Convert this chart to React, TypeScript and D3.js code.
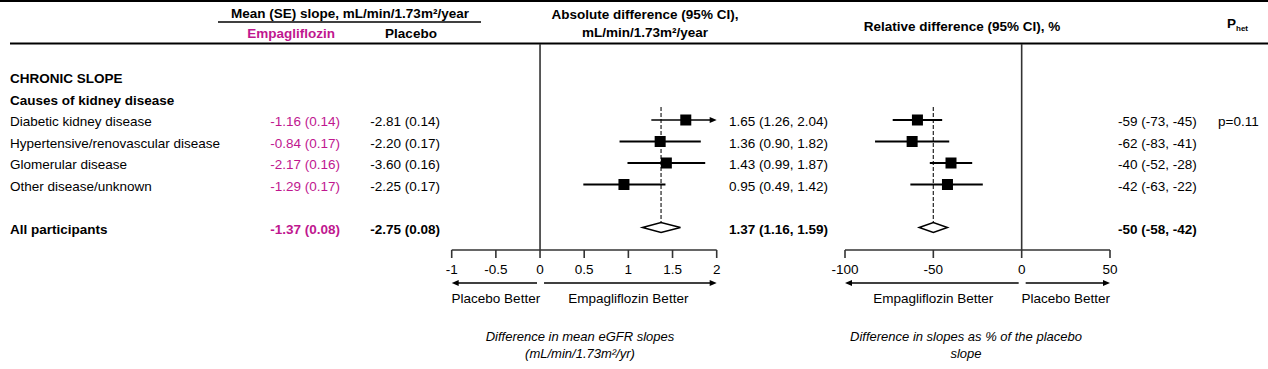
import * as d3 from 'd3';

// chronic eGFR slope by cause of kidney disease
const groups = [
  'Diabetic kidney disease',
  'Hypertensive/renovascular disease',
  'Glomerular disease',
  'Other disease/unknown',
];
const empaSlope = ['-1.16 (0.14)', '-0.84 (0.17)', '-2.17 (0.16)', '-1.29 (0.17)'];
const placeboSlope = ['-2.81 (0.14)', '-2.20 (0.17)', '-3.60 (0.16)', '-2.25 (0.17)'];

const absEst = [1.65, 1.36, 1.43, 0.95];
const absLo = [1.26, 0.9, 0.99, 0.49];
const absHi = [2.04, 1.82, 1.87, 1.42];

const relEst = [-59, -62, -40, -42];
const relLo = [-73, -83, -52, -63];
const relHi = [-45, -41, -28, -22];

const overall = {
  label: 'All participants',
  empa: '-1.37 (0.08)',
  placebo: '-2.75 (0.08)',
  abs: [1.37, 1.16, 1.59],
  rel: [-50, -58, -42],
};
const pHet = 'p=0.11';

const absTicks = [-1, -0.5, 0, 0.5, 1, 1.5, 2];
const relTicks = [-100, -50, 0, 50];

const W = 1268;
const H = 369;
const FONT = "'Liberation Sans', Arial, sans-serif";
const FS = 13.5;
const MAGENTA = '#c0178f';
const LINE = '#333';

const xAbs = d3.scaleLinear().domain([-1, 2]).range([451.7, 716.7]);
const xRel = d3.scaleLinear().domain([-100, 50]).range([845, 1110]);
// row index -> centre y (overall row sits at index 5)
const yRow = d3.scaleLinear().domain([0, 1]).range([120, 141.5]);

const AXIS_Y = 250;
const ARROW_Y = 283;
const SQ = 11;

const fmtCI = (a: number[], dp: number) =>
  `${a[0].toFixed(dp)} (${a[1].toFixed(dp)}, ${a[2].toFixed(dp)})`;

const Arrow = ({ x1, x2, y }: { x1: number; x2: number; y: number }) => {
  const dir = Math.sign(x2 - x1);
  return (
    <g>
      <line x1={x1} x2={x2 - dir * 5} y1={y} y2={y} stroke="#000" strokeWidth={1.6} />
      <path d={`M${x2},${y} L${x2 - dir * 7},${y - 3} L${x2 - dir * 7},${y + 3} Z`} fill="#000" />
    </g>
  );
};

const Panel = ({
  x,
  ticks,
  est,
  lo,
  hi,
  pooled,
  leftLabel,
  rightLabel,
}: {
  x: d3.ScaleLinear<number, number>;
  ticks: number[];
  est: number[];
  lo: number[];
  hi: number[];
  pooled: number[];
  leftLabel: string;
  rightLabel: string;
}) => {
  const [dMin, dMax] = x.domain();
  const x0 = x(0);
  const yPool = yRow(5);
  const diamond = `M${x(pooled[1])},${yPool} L${x(pooled[0])},${yPool - 5} L${x(pooled[2])},${yPool} L${x(pooled[0])},${yPool + 5} Z`;
  return (
    <g>
      <line x1={x0} x2={x0} y1={44} y2={AXIS_Y} stroke={LINE} strokeWidth={1.6} />
      <line
        x1={x(pooled[0])}
        x2={x(pooled[0])}
        y1={107}
        y2={yPool - 5}
        stroke={LINE}
        strokeWidth={1.3}
        strokeDasharray="4,2"
      />
      {est.map((e, i) => {
        const y = yRow(i);
        const clipped = hi[i] > dMax;
        return (
          <g key={i}>
            {clipped ? (
              <Arrow x1={x(Math.max(lo[i], dMin))} x2={x(dMax)} y={y} />
            ) : (
              <line x1={x(lo[i])} x2={x(hi[i])} y1={y} y2={y} stroke="#000" strokeWidth={1.8} />
            )}
            <rect x={x(e) - SQ / 2} y={y - SQ / 2} width={SQ} height={SQ} fill="#000" />
          </g>
        );
      })}
      <path d={diamond} fill="#fff" stroke="#000" strokeWidth={1.5} />
      {/* axis */}
      <line x1={x(dMin)} x2={x(dMax)} y1={AXIS_Y} y2={AXIS_Y} stroke={LINE} strokeWidth={1.6} />
      {ticks.map((t) => (
        <g key={t}>
          <line x1={x(t)} x2={x(t)} y1={AXIS_Y} y2={AXIS_Y + 8} stroke={LINE} strokeWidth={1.6} />
          <text x={x(t)} y={AXIS_Y + 24} textAnchor="middle">
            {t}
          </text>
        </g>
      ))}
      <Arrow x1={x0 - 3} x2={x(dMin)} y={ARROW_Y} />
      <Arrow x1={x0 + 4} x2={x(dMax)} y={ARROW_Y} />
      <text x={(x(dMin) + x0) / 2} y={ARROW_Y + 20} textAnchor="middle">
        {leftLabel}
      </text>
      <text x={(x(dMax) + x0) / 2} y={ARROW_Y + 20} textAnchor="middle">
        {rightLabel}
      </text>
    </g>
  );
};

export default function App() {
  return (
    <svg
      width={W}
      height={H}
      style={{ position: 'absolute', left: 0, top: 0, background: '#fff' }}
      fontFamily={FONT}
      fontSize={FS}
      fill="#000"
    >
      {/* header */}
      <line x1={0} x2={W} y1={1} y2={1} stroke="#000" strokeWidth={2} />
      <g fontWeight="bold">
        <text x={350} y={18} textAnchor="middle">
          Mean (SE) slope, mL/min/1.73m²/year
        </text>
        <text x={291} y={38} textAnchor="middle" fill={MAGENTA}>
          Empagliflozin
        </text>
        <text x={411} y={38} textAnchor="middle">
          Placebo
        </text>
        <text x={645} y={19} textAnchor="middle">
          Absolute difference (95% CI),
        </text>
        <text x={645} y={37} textAnchor="middle">
          mL/min/1.73m²/year
        </text>
        <text x={962} y={31} textAnchor="middle">
          Relative difference (95% CI), %
        </text>
        <text x={1227} y={28}>
          P<tspan fontSize={8} dy={3}>het</tspan>
        </text>
      </g>
      <line x1={218} x2={481} y1={22} y2={22} stroke="#000" strokeWidth={1.5} />
      <line x1={10} x2={W} y1={43.5} y2={43.5} stroke="#000" strokeWidth={2} />

      {/* left table */}
      <text x={10} y={yRow(-2) + 6} fontWeight="bold">
        CHRONIC SLOPE
      </text>
      <text x={10} y={yRow(-1) + 6} fontWeight="bold">
        Causes of kidney disease
      </text>
      {groups.map((g, i) => (
        <g key={g}>
          <text x={10} y={yRow(i) + 6}>
            {g}
          </text>
          <text x={340} y={yRow(i) + 6} textAnchor="end" fill={MAGENTA}>
            {empaSlope[i]}
          </text>
          <text x={440} y={yRow(i) + 6} textAnchor="end">
            {placeboSlope[i]}
          </text>
          <text x={729} y={yRow(i) + 6}>
            {fmtCI([absEst[i], absLo[i], absHi[i]], 2)}
          </text>
          <text x={1118} y={yRow(i) + 6}>
            {fmtCI([relEst[i], relLo[i], relHi[i]], 0)}
          </text>
        </g>
      ))}
      <text x={1218} y={yRow(0) + 6}>
        {pHet}
      </text>
      <g fontWeight="bold">
        <text x={10} y={yRow(5) + 6}>
          {overall.label}
        </text>
        <text x={340} y={yRow(5) + 6} textAnchor="end" fill={MAGENTA}>
          {overall.empa}
        </text>
        <text x={440} y={yRow(5) + 6} textAnchor="end">
          {overall.placebo}
        </text>
        <text x={729} y={yRow(5) + 6}>
          {fmtCI(overall.abs, 2)}
        </text>
        <text x={1118} y={yRow(5) + 6}>
          {fmtCI(overall.rel, 0)}
        </text>
      </g>

      <Panel
        x={xAbs}
        ticks={absTicks}
        est={absEst}
        lo={absLo}
        hi={absHi}
        pooled={overall.abs}
        leftLabel="Placebo Better"
        rightLabel="Empagliflozin Better"
      />
      <Panel
        x={xRel}
        ticks={relTicks}
        est={relEst}
        lo={relLo}
        hi={relHi}
        pooled={overall.rel}
        leftLabel="Empagliflozin Better"
        rightLabel="Placebo Better"
      />

      {/* axis titles */}
      <g fontStyle="italic" fontSize={13}>
        <text x={580} y={341} textAnchor="middle">
          Difference in mean eGFR slopes
        </text>
        <text x={580} y={358} textAnchor="middle">
          (mL/min/1.73m²/yr)
        </text>
        <text x={966} y={341} textAnchor="middle">
          Difference in slopes as % of the placebo
        </text>
        <text x={966} y={358} textAnchor="middle">
          slope
        </text>
      </g>
    </svg>
  );
}
